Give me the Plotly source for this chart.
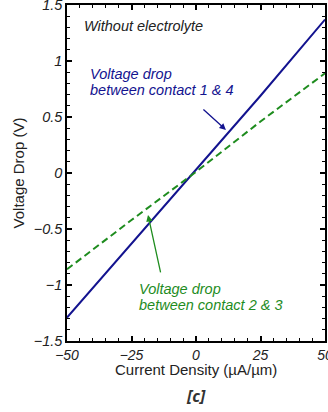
import plotly.graph_objects as go

current = [-50, -25, 0, 25, 50]
drop_14 = [-1.29, -0.63, 0.02, 0.69, 1.37]
drop_23 = [-0.86, -0.42, 0.01, 0.46, 0.89]

x_ticks = [-50, -25, 0, 25, 50]
x_labels = ["−50", "−25", "0", "25", "50"]
y_ticks = [-1.5, -1, -0.5, 0, 0.5, 1, 1.5]
y_labels = ["−1.5", "−1", "−0.5", "0", "0.5", "1", "1.5"]

BLUE = "#13138f"
GREEN = "#1e8c1e"
FONT = "Liberation Sans"
TXT = "#222"

fig = go.Figure()
fig.add_trace(go.Scatter(x=current, y=drop_14, mode="lines",
                         line=dict(color=BLUE, width=2), showlegend=False))
fig.add_trace(go.Scatter(x=current, y=drop_23, mode="lines",
                         line=dict(color=GREEN, width=2, dash="7px,4px"), showlegend=False))

axis_common = dict(showline=True, linecolor="black", linewidth=1.5, mirror="allticks",
                   ticks="inside", ticklen=5, tickwidth=1.5, tickcolor="black",
                   showgrid=False, zeroline=False, automargin=False,
                   ticklabeloverflow="allow")

fig.update_xaxes(range=[-50, 50], tickvals=x_ticks, ticktext=x_labels,
                 tickfont=dict(family=FONT, size=14, color=TXT, style="italic"),
                 minor=dict(dtick=5, ticks="inside", ticklen=3, tickwidth=1.2, tickcolor="black"),
                 **axis_common)
fig.update_yaxes(range=[-1.5, 1.5], tickvals=y_ticks, ticktext=y_labels,
                 tickfont=dict(family=FONT, size=14.5, color=TXT, style="italic"),
                 minor=dict(dtick=0.1, ticks="inside", ticklen=3, tickwidth=1.2, tickcolor="black"),
                 title=dict(text="Voltage Drop (V)", font=dict(family=FONT, size=15, color=TXT), standoff=5),
                 **axis_common)

def txt(x, y, s, color):
    fig.add_annotation(x=x, y=y, xref="x", yref="y", text=s, showarrow=False,
                       xanchor="left", yanchor="middle",
                       font=dict(family=FONT, size=14.5, color=color, style="italic"))

txt(-44.2, 1.31, "Without electrolyte", TXT)
txt(-41.9, 0.884, "Voltage drop", BLUE)
txt(-41.9, 0.741, "between contact 1 & 4", BLUE)
txt(-22.9, -1.036, "Voltage drop", GREEN)
txt(-22.9, -1.179, "between contact 2 & 3", GREEN)

fig.add_annotation(x=11.6, y=0.384, ax=2.3, ay=0.58, xref="x", yref="y", axref="x", ayref="y",
                   showarrow=True, arrowhead=2, arrowsize=1, arrowwidth=1.3, arrowcolor=BLUE, text="")
fig.add_annotation(x=-18.6, y=-0.375, ax=-13.6, ay=-0.90, xref="x", yref="y", axref="x", ayref="y",
                   showarrow=True, arrowhead=2, arrowsize=1, arrowwidth=1.3, arrowcolor=GREEN, text="")
fig.add_annotation(x=0.5, y=-0.084, xref="paper", yref="paper", text="Current Density (µA/µm)",
                   showarrow=False, xanchor="center", yanchor="middle",
                   font=dict(family=FONT, size=15, color=TXT))
fig.add_annotation(x=0.5, y=-0.164, xref="paper", yref="paper", text="<b><i>[c]</i></b>",
                   showarrow=False, xanchor="center", yanchor="middle",
                   font=dict(family="Open Sans", size=16, color="#333"))

fig.update_layout(width=328, height=412, margin=dict(l=67, r=3, t=5, b=71),
                  paper_bgcolor="white", plot_bgcolor="white")
fig.write_html("out.html", config={"displayModeBar": False},
               post_script="document.body.style.margin='0';document.body.style.overflow='hidden';")
